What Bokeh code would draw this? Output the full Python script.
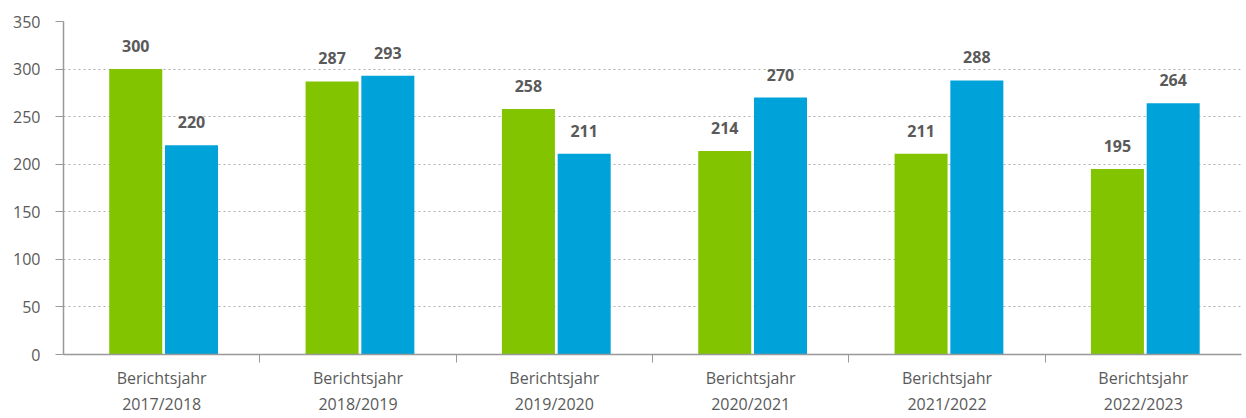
import numpy as np
from bokeh.plotting import figure
from bokeh.models import FixedTicker, ColumnDataSource, Range1d
from bokeh.core.properties import value
from bokeh.embed import file_html
from bokeh.resources import INLINE

categories = ["Berichtsjahr\n2017/2018", "Berichtsjahr\n2018/2019", "Berichtsjahr\n2019/2020",
              "Berichtsjahr\n2020/2021", "Berichtsjahr\n2021/2022", "Berichtsjahr\n2022/2023"]
series_green = [300, 287, 258, 214, 211, 195]
series_blue = [220, 293, 211, 270, 288, 264]
y_ticks = [0, 50, 100, 150, 200, 250, 300, 350]

GREEN = "#82c400"
BLUE = "#00a3d9"
FONT = "Open Sans"
TXT = "#5a5a5a"

centers = np.arange(len(categories)) + 0.5
g_off, b_off, bw = -0.132, 0.152, 0.27

p = figure(width=1246, height=418, output_backend="svg", toolbar_location=None,
           x_range=Range1d(0, len(categories)), y_range=Range1d(0, 350),
           min_border_left=63, min_border_right=5, min_border_top=21, min_border_bottom=63)
p.outline_line_color = None
p.background_fill_color = "white"

src_g = ColumnDataSource(dict(x=centers + g_off, top=series_green, lab=[str(v) for v in series_green]))
src_b = ColumnDataSource(dict(x=centers + b_off, top=series_blue, lab=[str(v) for v in series_blue]))

p.vbar(x="x", top="top", width=bw, bottom=0, source=src_g, fill_color=GREEN, line_color=None)
p.vbar(x="x", top="top", width=bw, bottom=0, source=src_b, fill_color=BLUE, line_color=None)

for s in (src_g, src_b):
    p.text(x="x", y="top", text="lab", source=s, text_align="center", text_baseline="bottom",
           y_offset=-17, text_font=value(FONT), text_font_size="16px", text_font_style="bold",
           text_color=TXT)

# axes
p.xaxis.ticker = FixedTicker(ticks=list(centers), minor_ticks=list(range(1, len(categories))))
p.xaxis.major_label_overrides = {float(c): lab for c, lab in zip(centers, categories)}
p.xaxis.major_tick_line_color = None
p.xaxis.major_tick_out = 0
p.xaxis.major_tick_in = 0
p.xaxis.minor_tick_out = 8
p.xaxis.minor_tick_in = 0
p.xaxis.minor_tick_line_color = "#999999"
p.xaxis.major_label_standoff = 4
p.xaxis.major_label_text_font = FONT
p.xaxis.major_label_text_font_size = "16px"
p.xaxis.major_label_text_color = TXT
p.xaxis.major_label_text_line_height = 1.22
p.xaxis.axis_line_color = "#999999"
p.xaxis.axis_line_width = 1.5

p.yaxis.ticker = FixedTicker(ticks=y_ticks)
p.yaxis.minor_tick_line_color = None
p.yaxis.major_tick_out = 8
p.yaxis.major_tick_in = 0
p.yaxis.major_tick_line_color = "#999999"
p.yaxis.major_label_standoff = 15
p.yaxis.major_label_text_font = FONT
p.yaxis.major_label_text_font_size = "16px"
p.yaxis.major_label_text_color = TXT
p.yaxis.axis_line_color = "#999999"
p.yaxis.axis_line_width = 1.5

p.xgrid.grid_line_color = None
p.ygrid.ticker = FixedTicker(ticks=y_ticks[1:])
p.ygrid.grid_line_color = "#b0b0b0"
p.ygrid.grid_line_dash = "2 3"
p.ygrid.grid_line_width = 1

open("out.html", "w").write(file_html(p, INLINE))
